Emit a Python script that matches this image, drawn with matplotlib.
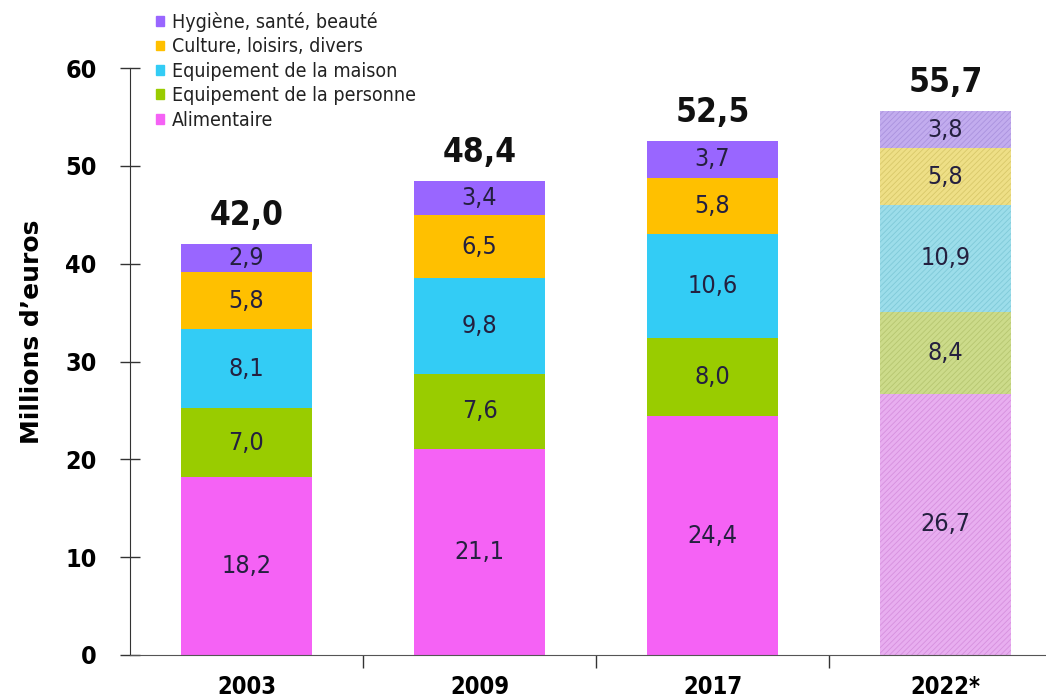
import matplotlib
matplotlib.use("Agg")
import matplotlib.pyplot as plt
from matplotlib.patches import Patch
import numpy as np

years = ["2003", "2009", "2017", "2022*"]
categories = ["Alimentaire", "Equipement de la personne", "Equipement de la maison",
              "Culture, loisirs, divers", "Hygiène, santé, beauté"]
alimentaire = [18.2, 21.1, 24.4, 26.7]
equip_personne = [7.0, 7.6, 8.0, 8.4]
equip_maison = [8.1, 9.8, 10.6, 10.9]
culture = [5.8, 6.5, 5.8, 5.8]
hygiene = [2.9, 3.4, 3.7, 3.8]
totals = ["42,0", "48,4", "52,5", "55,7"]
yticks = [0, 10, 20, 30, 40, 50, 60]

series = [alimentaire, equip_personne, equip_maison, culture, hygiene]
colors = ["#F562F5", "#99CC00", "#33CCF5", "#FFC000", "#9966FF"]
colors_proj = ["#E8AEF0", "#CCDB8A", "#9CDDEA", "#EEDF86", "#C2ACEE"]
hatch_cols = ["#D690DE", "#B6C670", "#7FC9D8", "#D8C86A", "#AA92DE"]

plt.rcParams['hatch.linewidth'] = 0.6

fig = plt.figure(figsize=(10.46, 6.99), dpi=100)
ax = fig.add_axes([130/1046, 1-655/699, 1-130/1046, (655-68)/699])

x = np.arange(len(years))
width = 0.56
bottom = np.zeros(len(years))
for i, vals in enumerate(series):
    vals = np.array(vals)
    for j in range(len(years)):
        if j == 3:
            ax.bar(x[j], vals[j], width, bottom=bottom[j], color=colors_proj[i],
                   edgecolor=hatch_cols[i], hatch="//////", linewidth=0)
        else:
            ax.bar(x[j], vals[j], width, bottom=bottom[j], color=colors[i], linewidth=0)
        ax.text(x[j], bottom[j] + vals[j]/2, f"{vals[j]:.1f}".replace(".", ","),
                ha="center", va="center", fontsize=18, color="#24203F",
                fontstretch="condensed")
    bottom += vals

for j in range(len(years)):
    ax.annotate(totals[j], (x[j], bottom[j]), xytext=(0, 9), textcoords="offset points",
                ha="center", va="bottom", fontsize=24, fontweight="bold", color="#111111",
                fontstretch="condensed")

ax.set_ylim(0, 60)
ax.set_xlim(-0.5, (1046-130)/233 - 0.5)
ax.set_yticks(yticks)
ax.set_yticklabels([str(t) for t in yticks], fontsize=18, fontweight="bold",
                   fontstretch="condensed")
ax.tick_params(axis="y", direction="inout", length=14, width=1, color="#333333", pad=17)
ax.set_xticks(x[:-1] + 0.5)
ax.set_xticklabels([])
ax.tick_params(axis="x", direction="out", length=9, width=1, color="#333333")
for j in range(len(years)):
    ax.text(x[j], -2.0, years[j], ha="center", va="top", fontsize=17, fontweight="bold",
            fontstretch="condensed", transform=ax.transData, clip_on=False)

ax.spines["top"].set_visible(False)
ax.spines["right"].set_visible(False)
ax.spines["left"].set_color("#333333")
ax.spines["bottom"].set_color("#555555")
ax.set_ylabel("Millions d’euros", fontsize=18, fontweight="bold")
ax.yaxis.set_label_coords(-0.094, 0.55)

handles = [Patch(color=colors[i], label=categories[i]) for i in range(len(categories))][::-1]
leg = fig.legend(handles=handles, loc="upper left", bbox_to_anchor=(156/1046, 1-12/699),
                 frameon=False, fontsize=14, handlelength=0.4, handleheight=0.4,
                 handletextpad=0.4, labelspacing=0.28, borderpad=0, borderaxespad=0)
for t in leg.get_texts():
    t.set_fontstretch("condensed")
    t.set_color("#222222")

fig.savefig("out.png", dpi=100)
